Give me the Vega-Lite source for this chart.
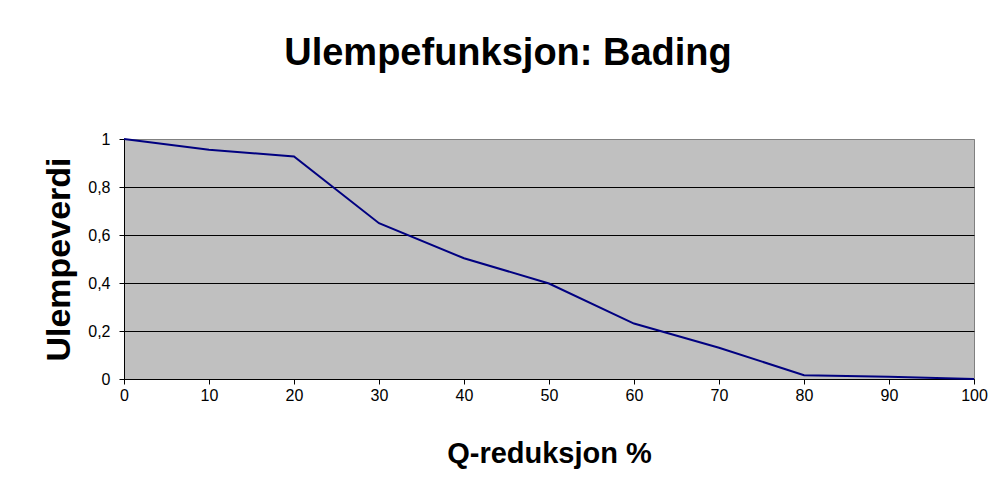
{
  "$schema": "https://vega.github.io/schema/vega-lite/v6.json",
  "autosize": "none",
  "width": 850,
  "height": 240,
  "padding": {"left": 124, "top": 139, "right": 21, "bottom": 120},
  "background": "white",
  "config": {
    "locale": {"number": {"decimal": ",", "thousands": " ", "grouping": [3], "currency": ["", " kr"]}},
    "font": "Liberation Sans",
    "view": {"fill": "#C0C0C0", "stroke": "#808080", "strokeWidth": 1}
  },
  "title": {
    "text": "Ulempefunksjon: Bading",
    "font": "Liberation Sans",
    "fontSize": 38,
    "fontWeight": "bold",
    "color": "black",
    "anchor": "middle",
    "dx": -41,
    "offset": 58
  },
  "data": {
    "values": [
      {"q": 0, "u": 1.0},
      {"q": 10, "u": 0.955},
      {"q": 20, "u": 0.927},
      {"q": 30, "u": 0.649},
      {"q": 40, "u": 0.503},
      {"q": 50, "u": 0.398},
      {"q": 60, "u": 0.231},
      {"q": 70, "u": 0.13},
      {"q": 80, "u": 0.016},
      {"q": 90, "u": 0.009},
      {"q": 100, "u": 0.0}
    ]
  },
  "mark": {"type": "line", "color": "#000080", "strokeWidth": 2},
  "encoding": {
    "x": {
      "field": "q",
      "type": "quantitative",
      "scale": {"domain": [0, 100], "nice": false},
      "axis": {
        "title": "Q-reduksjon %",
        "values": [0, 10, 20, 30, 40, 50, 60, 70, 80, 90, 100],
        "grid": false,
        "domainColor": "black",
        "domainWidth": 1,
        "tickColor": "black",
        "tickSize": 5,
        "labelFont": "Liberation Sans",
        "labelFontSize": 16,
        "labelColor": "black",
        "labelPadding": 3,
        "labelFlush": false,
        "titleFont": "Liberation Sans",
        "titleFontSize": 29,
        "titleFontWeight": "bold",
        "titleColor": "black",
        "titlePadding": 36
      }
    },
    "y": {
      "field": "u",
      "type": "quantitative",
      "scale": {"domain": [0, 1], "nice": false},
      "axis": {
        "title": "Ulempeverdi",
        "values": [0, 0.2, 0.4, 0.6, 0.8, 1],
        "format": ".1~f",
        "grid": true,
        "gridColor": {"condition": {"test": "datum.value == 1", "value": "#808080"}, "value": "black"},
        "gridOpacity": 1,
        "gridWidth": 1,
        "domainColor": "black",
        "domainWidth": 1,
        "tickColor": "black",
        "tickSize": 5,
        "labelFont": "Liberation Sans",
        "labelFontSize": 16,
        "labelColor": "black",
        "labelPadding": 9,
        "labelFlush": false,
        "titleFont": "Liberation Sans",
        "titleFontSize": 34,
        "titleFontWeight": "bold",
        "titleColor": "black",
        "titlePadding": 11
      }
    }
  }
}
